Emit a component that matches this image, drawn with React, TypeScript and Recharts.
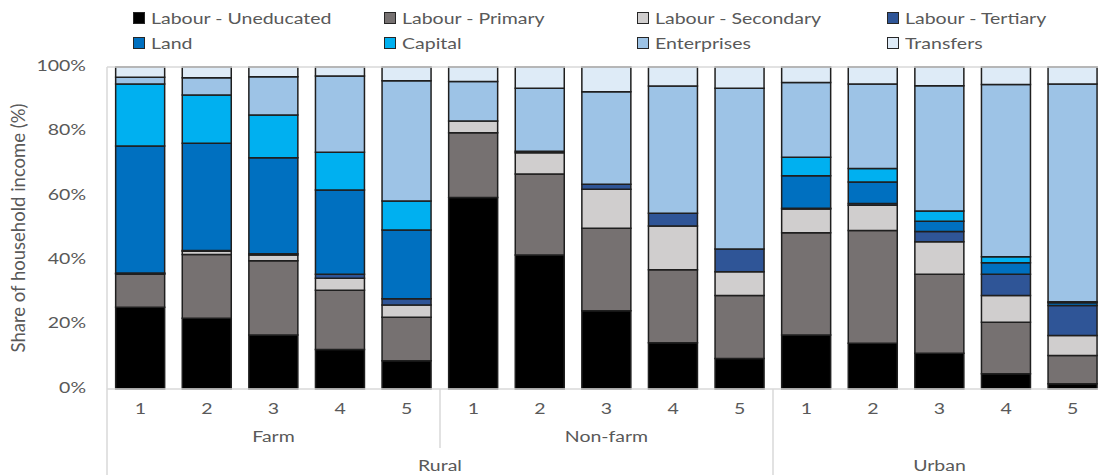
import { BarChart, Bar, XAxis, YAxis, ReferenceLine } from 'recharts'

// income quintiles, land-use subgroup and region for each bar
const quintiles = ['1', '2', '3', '4', '5', '1', '2', '3', '4', '5', '1', '2', '3', '4', '5']
const subgroups = ['Farm', 'Farm', 'Farm', 'Farm', 'Farm', 'Non-farm', 'Non-farm', 'Non-farm', 'Non-farm', 'Non-farm', '', '', '', '', '']
const regions = ['Rural', 'Rural', 'Rural', 'Rural', 'Rural', 'Rural', 'Rural', 'Rural', 'Rural', 'Rural', 'Urban', 'Urban', 'Urban', 'Urban', 'Urban']

// income shares (%)
const uneducated = [25.4, 22.0, 16.8, 12.3, 8.8, 59.5, 41.6, 24.3, 14.4, 9.5, 16.8, 14.2, 11.1, 4.7, 1.6]
const primary = [10.2, 19.8, 23.0, 18.4, 13.5, 20.1, 25.2, 25.6, 22.6, 19.5, 31.7, 35.0, 24.5, 16.0, 8.8]
const secondary = [0.3, 1.0, 1.8, 3.7, 3.8, 3.6, 6.6, 12.1, 13.6, 7.4, 7.4, 7.9, 10.1, 8.3, 6.2]
const tertiary = [0.1, 0.2, 0.4, 1.2, 1.9, 0, 0.4, 1.6, 4.0, 7.1, 0.2, 0.5, 3.2, 6.6, 9.3]
const land = [39.5, 33.3, 29.8, 26.2, 21.4, 0, 0, 0, 0, 0, 10.1, 6.7, 3.2, 3.6, 0.9]
const capital = [19.2, 15.0, 13.3, 11.7, 9.0, 0, 0, 0, 0, 0, 5.8, 4.2, 3.2, 1.9, 0.3]
const enterprises = [2.1, 5.4, 11.9, 23.7, 37.3, 12.3, 19.6, 28.7, 39.5, 49.9, 23.2, 26.2, 38.9, 53.5, 67.6]
const transfers = [3.2, 3.3, 3.0, 2.8, 4.3, 4.5, 6.6, 7.7, 5.9, 6.6, 4.8, 5.3, 5.8, 5.4, 5.3]

const series = [
  { key: 'uneducated', name: 'Labour - Uneducated', color: '#000000', values: uneducated },
  { key: 'primary', name: 'Labour - Primary', color: '#767171', values: primary },
  { key: 'secondary', name: 'Labour - Secondary', color: '#d0cece', values: secondary },
  { key: 'tertiary', name: 'Labour - Tertiary', color: '#2f5597', values: tertiary },
  { key: 'land', name: 'Land', color: '#0070c0', values: land },
  { key: 'capital', name: 'Capital', color: '#00b0f0', values: capital },
  { key: 'enterprises', name: 'Enterprises', color: '#9dc3e6', values: enterprises },
  { key: 'transfers', name: 'Transfers', color: '#deebf7', values: transfers },
]

const rows = quintiles.map((q, i) => {
  const row: Record<string, string | number> = { id: `${regions[i]}-${subgroups[i]}-${q}`, q }
  series.forEach(s => { row[s.key] = s.values[i] })
  return row
})

const W = 1112
const H = 475
const TOP = 67
const Y_AXIS_W = 107
const RIGHT = 6
const X_AXIS_H = 86
const BAND = (W - Y_AXIS_W - RIGHT) / rows.length

const TEXT = '#595959'
const GRID = '#d9d9d9'
const FONT = 'Lato, sans-serif'
const STRETCH = 1.3

function spanOf(labels: string[], i: number) {
  let first = i
  while (first > 0 && labels[first - 1] === labels[i]) first--
  let last = i
  while (last < labels.length - 1 && labels[last + 1] === labels[i]) last++
  return { first, last }
}

function CategoryTick(props: any) {
  const { x, y, index } = props
  const half = BAND / 2
  const sub = spanOf(subgroups, index)
  const reg = spanOf(regions, index)
  const out: any[] = []
  out.push(
    <text key="q" transform={`translate(${x},${y + 21}) scale(${STRETCH},1)`} textAnchor="middle"
      dominantBaseline="middle" fontSize={15} fill={TEXT} fontFamily={FONT}>{quintiles[index]}</text>
  )
  if (reg.first === index) {
    out.push(<line key="rl" x1={x - half} x2={x - half} y1={y} y2={H} stroke={GRID} strokeWidth={1.5} />)
    const cx = x + ((reg.last - reg.first) / 2) * BAND
    out.push(
      <text key="r" transform={`translate(${cx},${y + 78}) scale(${STRETCH},1)`} textAnchor="middle"
        dominantBaseline="middle" fontSize={15} fill={TEXT} fontFamily={FONT}>{regions[index]}</text>
    )
  }
  if (sub.first === index && subgroups[index]) {
    if (reg.first !== index) {
      out.push(<line key="sl" x1={x - half} x2={x - half} y1={y} y2={y + 59} stroke={GRID} strokeWidth={1.5} />)
    }
    const cx = x + ((sub.last - sub.first) / 2) * BAND
    out.push(
      <text key="s" transform={`translate(${cx},${y + 49}) scale(${STRETCH},1)`} textAnchor="middle"
        dominantBaseline="middle" fontSize={15} fill={TEXT} fontFamily={FONT}>{subgroups[index]}</text>
    )
  }
  return <g>{out}</g>
}

function PercentTick(props: any) {
  const { x, y, payload } = props
  return (
    <text transform={`translate(${x},${y}) scale(${STRETCH},1)`} textAnchor="end" dominantBaseline="middle"
      fontSize={15} fill={TEXT} fontFamily={FONT}>{`${payload.value}%`}</text>
  )
}

function AxisTitle(props: any) {
  const { viewBox } = props
  const cy = viewBox.y + viewBox.height / 2
  return (
    <text transform={`translate(${viewBox.x + 20},${cy}) rotate(-90)`} textAnchor="middle" dominantBaseline="middle"
      fontSize={18.5} fill={TEXT} fontFamily={FONT}>Share of household income (%)</text>
  )
}

function LegendBlock() {
  const colX = [133, 384, 637, 887]
  return (
    <div style={{ position: 'absolute', left: 0, top: 0, width: 1098, height: 60, fontFamily: FONT }}>
      {series.map((s, i) => (
        <div key={s.key} style={{
          position: 'absolute', left: colX[i % 4], top: i < 4 ? 10 : 35, height: 16,
          display: 'flex', alignItems: 'center', whiteSpace: 'nowrap',
        }}>
          <span style={{ width: 10, height: 10, background: s.color, border: '1.5px solid #262626', display: 'inline-block' }} />
          <span style={{
            marginLeft: 6, fontSize: 15, color: TEXT, display: 'inline-block',
            transform: `scaleX(${STRETCH})`, transformOrigin: 'left center',
          }}>{s.name}</span>
        </div>
      ))}
    </div>
  )
}

export default function App() {
  return (
    <div style={{ position: 'absolute', left: 0, top: 0, width: 1098, height: H, overflow: 'hidden', background: '#fff' }}>
      <LegendBlock />
      <BarChart width={W} height={H} data={rows} margin={{ top: TOP, right: RIGHT, left: 0, bottom: 0 }}
        barCategoryGap="13%" style={{ position: 'absolute', left: 0, top: 0 }}>
        <ReferenceLine y={100} stroke={GRID} strokeWidth={1.5} />
        <XAxis dataKey="id" height={X_AXIS_H} interval={0} tickLine={false} tickSize={0} tickMargin={0}
          axisLine={{ stroke: GRID, strokeWidth: 1.5 }} tick={<CategoryTick />} />
        <YAxis width={Y_AXIS_W} domain={[0, 100]} ticks={[0, 20, 40, 60, 80, 100]} tickLine={false}
          tickSize={0} tickMargin={21} axisLine={{ stroke: GRID, strokeWidth: 1.5 }} tick={<PercentTick />}
          label={<AxisTitle />} />
        {series.map(s => (
          <Bar key={s.key} dataKey={s.key} name={s.name} stackId="income" fill={s.color}
            stroke="#1f1f1f" strokeWidth={1.5} isAnimationActive={false} />
        ))}
      </BarChart>
    </div>
  )
}
